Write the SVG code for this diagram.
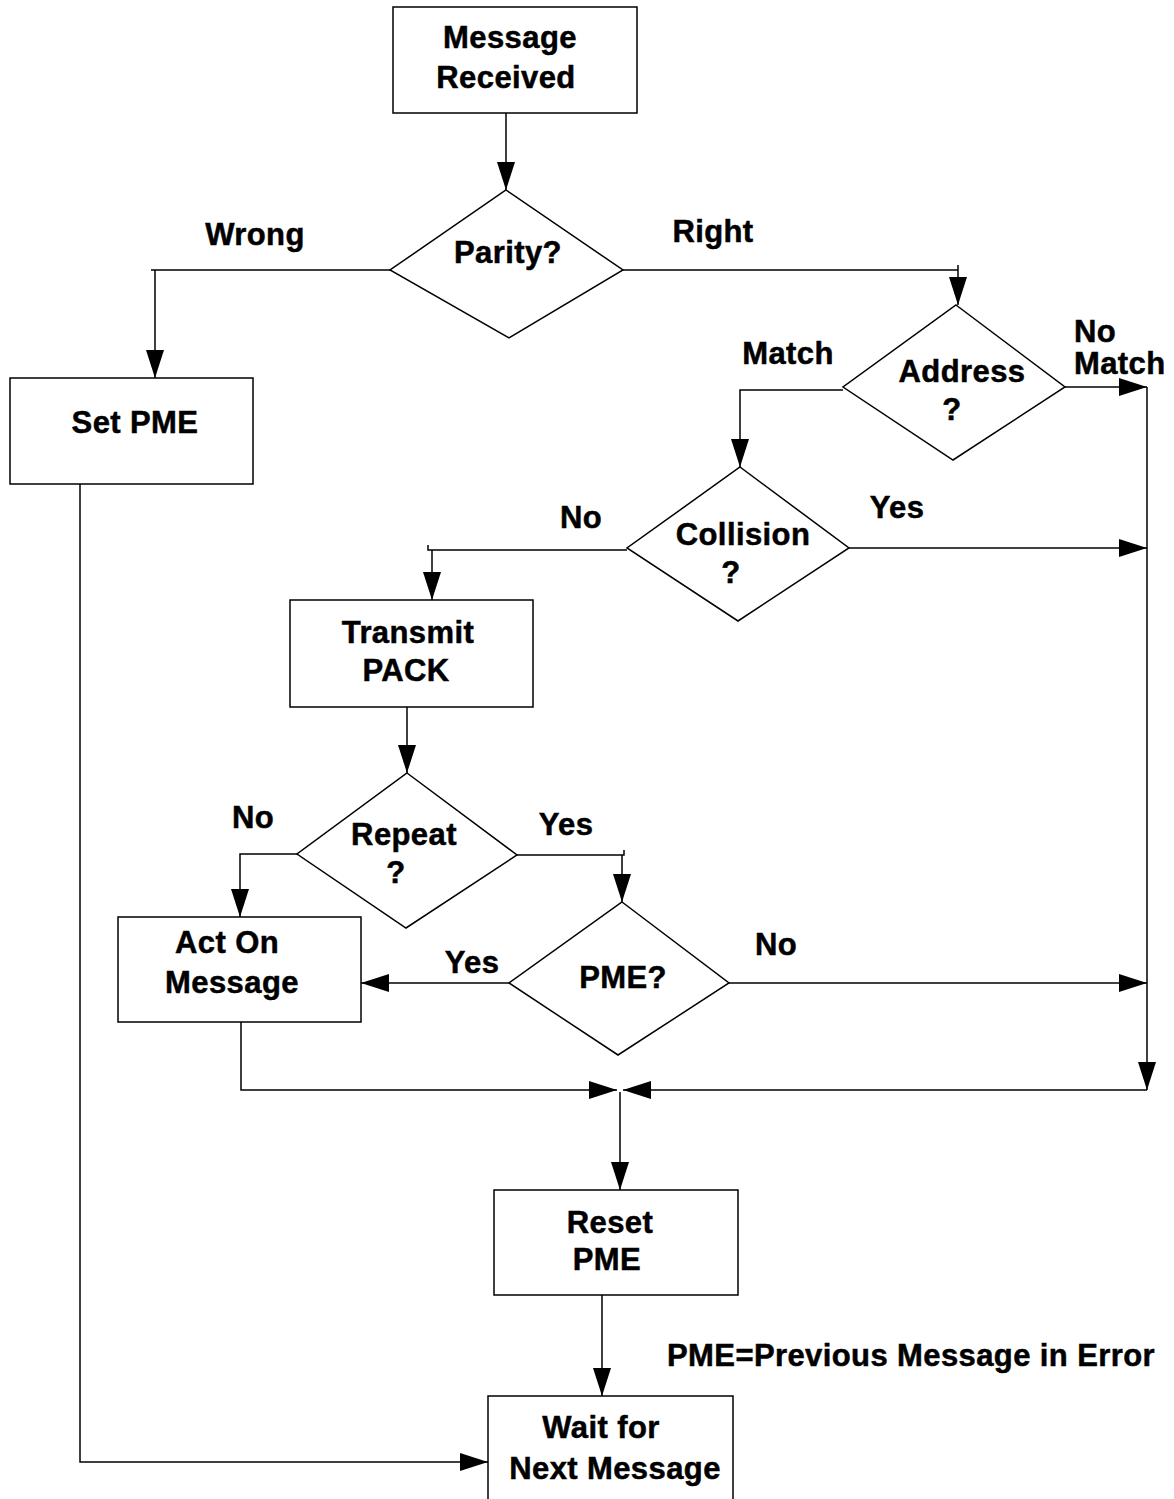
<svg xmlns="http://www.w3.org/2000/svg" width="1174" height="1499" viewBox="0 0 1174 1499">
  <style>
    .box { fill: #ffffff; stroke: #000000; stroke-width: 1.5; }
    .wire { fill: none; stroke: #000000; stroke-width: 1.5; }
    text { font-family: "Liberation Sans", Arial, sans-serif; font-weight: bold; font-size: 31px; letter-spacing: 0.4px; fill: #000000; stroke: #000000; stroke-width: 0.5; }
    .c { text-anchor: middle; }
  </style>
  <defs>
    <marker id="arrow" markerUnits="userSpaceOnUse" markerWidth="28" markerHeight="18" refX="28" refY="9" orient="auto">
      <path d="M0,0 L28,9 L0,18 Z" fill="#000000"/>
    </marker>
  </defs>

  <rect width="1174" height="1499" fill="#ffffff"/>

  <!-- connectors -->
  <g id="connectors">
    <path class="wire" d="M506,113 V190" marker-end="url(#arrow)"/>
    <path class="wire" d="M390,270 H151 M155,270 V378" marker-end="url(#arrow)"/>
    <path class="wire" d="M623,270 H958 V265 M958,270 V305" marker-end="url(#arrow)"/>
    <path class="wire" d="M1065,387 H1147" marker-end="url(#arrow)"/>
    <path class="wire" d="M843,390 H740 V467" marker-end="url(#arrow)"/>
    <path class="wire" d="M849,548 H1147" marker-end="url(#arrow)"/>
    <path class="wire" d="M627,550 H428 V545 M432,550 V600" marker-end="url(#arrow)"/>
    <path class="wire" d="M407,707 V773" marker-end="url(#arrow)"/>
    <path class="wire" d="M297,854 H240 V917" marker-end="url(#arrow)"/>
    <path class="wire" d="M517,855 H624 V850 M622,855 V902" marker-end="url(#arrow)"/>
    <path class="wire" d="M509,983 H361" marker-end="url(#arrow)"/>
    <path class="wire" d="M729,983 H1147" marker-end="url(#arrow)"/>
    <path class="wire" d="M1147,387 V1090" marker-end="url(#arrow)"/>
    <path class="wire" d="M241,1022 V1090 H617" marker-end="url(#arrow)"/>
    <path class="wire" d="M1147,1090 H623" marker-end="url(#arrow)"/>
    <path class="wire" d="M620,1092 V1190" marker-end="url(#arrow)"/>
    <path class="wire" d="M602,1295 V1396" marker-end="url(#arrow)"/>
    <path class="wire" d="M80,484 V1462 H488" marker-end="url(#arrow)"/>
  </g>

  <g id="message-received">
    <rect class="box" x="393" y="7" width="244" height="106"/>
    <text class="c" x="510" y="48">Message</text>
    <text class="c" x="506" y="88">Received</text>
  </g>

  <g id="parity">
    <path class="box" d="M506,190 L623,270 L509,338 L390,270 Z"/>
    <text class="c" x="508" y="263">Parity?</text>
  </g>

  <g id="set-pme">
    <rect class="box" x="10" y="378" width="243" height="106"/>
    <text class="c" x="135" y="433">Set PME</text>
  </g>

  <g id="address">
    <path class="box" d="M956,305 L1065,387 L953,460 L843,387 Z"/>
    <text class="c" x="962" y="382">Address</text>
    <text class="c" x="952" y="420">?</text>
  </g>

  <g id="collision">
    <path class="box" d="M740,467 L849,548 L738,621 L627,548 Z"/>
    <text class="c" x="743" y="545">Collision</text>
    <text class="c" x="731" y="583">?</text>
  </g>

  <g id="transmit-pack">
    <rect class="box" x="290" y="600" width="243" height="107"/>
    <text class="c" x="408" y="643">Transmit</text>
    <text class="c" x="406" y="681">PACK</text>
  </g>

  <g id="repeat">
    <path class="box" d="M407,773 L517,855 L406,928 L297,854 Z"/>
    <text class="c" x="404" y="845">Repeat</text>
    <text class="c" x="396" y="883">?</text>
  </g>

  <g id="pme-check">
    <path class="box" d="M622,902 L729,983 L618,1055 L509,983 Z"/>
    <text class="c" x="623" y="988">PME?</text>
  </g>

  <g id="act-on-message">
    <rect class="box" x="118" y="917" width="243" height="105"/>
    <text class="c" x="227" y="953">Act On</text>
    <text class="c" x="232" y="993">Message</text>
  </g>

  <g id="reset-pme">
    <rect class="box" x="494" y="1190" width="244" height="105"/>
    <text class="c" x="610" y="1233">Reset</text>
    <text class="c" x="607" y="1270">PME</text>
  </g>

  <g id="wait-next">
    <rect class="box" x="488" y="1396" width="245" height="110"/>
    <text class="c" x="601" y="1438">Wait for</text>
    <text class="c" x="615" y="1479">Next Message</text>
  </g>

  <!-- branch labels -->
  <g id="labels">
    <text class="c" x="255" y="245">Wrong</text>
    <text class="c" x="713" y="242">Right</text>
    <text class="c" x="788" y="364">Match</text>
    <text x="1074" y="342">No</text>
    <text x="1074" y="374">Match</text>
    <text class="c" x="581" y="528">No</text>
    <text class="c" x="897" y="518">Yes</text>
    <text class="c" x="253" y="828">No</text>
    <text class="c" x="566" y="835">Yes</text>
    <text class="c" x="472" y="973">Yes</text>
    <text class="c" x="776" y="955">No</text>
    <text x="667" y="1366">PME=Previous Message in Error</text>
  </g>
</svg>
